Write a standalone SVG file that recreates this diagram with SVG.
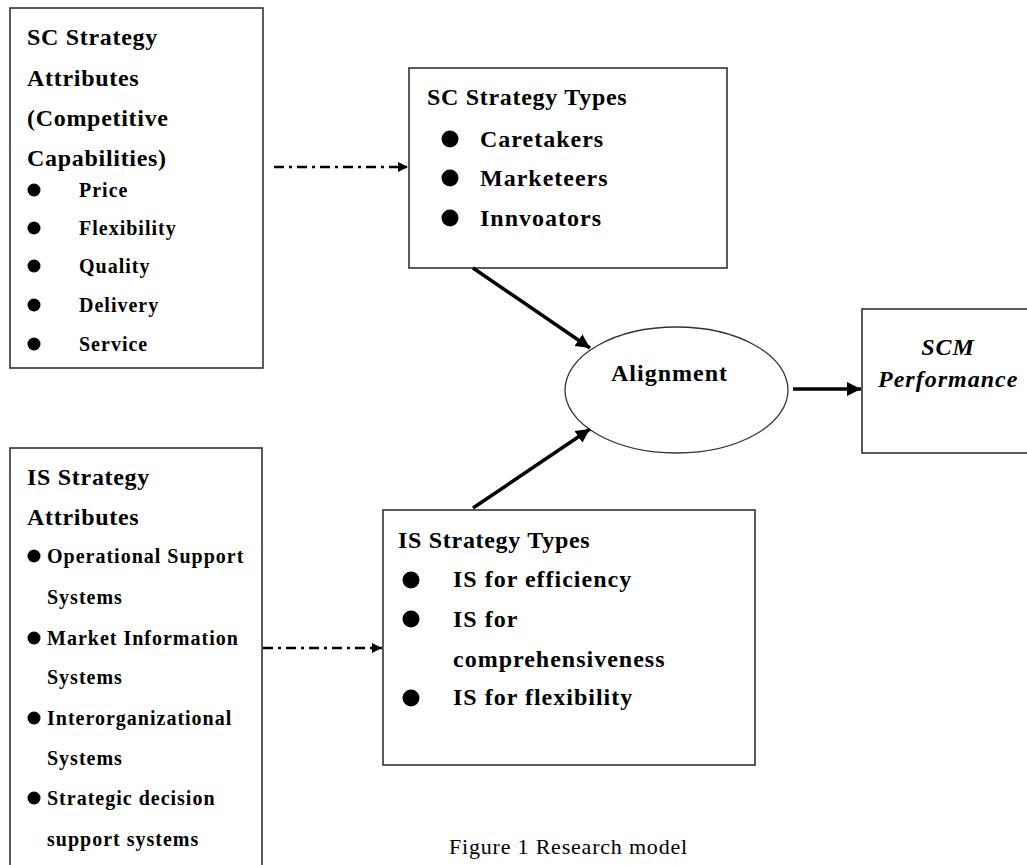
<svg xmlns="http://www.w3.org/2000/svg" width="1027" height="865" viewBox="0 0 1027 865">
<style>
.box{fill:#fff;stroke:#333;stroke-width:1.6}
.t{font-family:"Liberation Serif","Times New Roman",serif;font-weight:bold;fill:#000}
.h{font-size:24px;letter-spacing:0.7px}
.i24{font-size:24px;letter-spacing:1px}
.i20{font-size:20px;letter-spacing:1px}
.it{font-style:italic}
.cap{font-family:"Liberation Serif","Times New Roman",serif;font-size:22px;letter-spacing:0.8px;fill:#000}
.dash{fill:none;stroke:#000;stroke-width:2.5;stroke-dasharray:10 5 3 5}
.solid{fill:none;stroke:#000;stroke-width:3.5}
</style>
<defs>
<marker id="ah" markerUnits="userSpaceOnUse" markerWidth="16" markerHeight="16" refX="14" refY="8" orient="auto">
<path d="M0,1 L14,8 L0,15 Z" fill="#000"/>
</marker>
<marker id="ahs" markerUnits="userSpaceOnUse" markerWidth="12" markerHeight="12" refX="10" refY="6" orient="auto">
<path d="M0,1 L10,6 L0,11 Z" fill="#000"/>
</marker>
</defs>
<rect width="1027" height="865" fill="#fff"/>

<g id="sc-attributes">
<rect class="box" x="10" y="8" width="253" height="360"/>
<text class="t h" x="27" y="45">SC Strategy</text>
<text class="t h" x="27" y="86">Attributes</text>
<text class="t h" x="27" y="126">(Competitive</text>
<text class="t h" x="27" y="166">Capabilities)</text>
<circle cx="34" cy="190" r="6.5"/>
<text class="t i20" x="79" y="197">Price</text>
<circle cx="34" cy="228" r="6.5"/>
<text class="t i20" x="79" y="235">Flexibility</text>
<circle cx="34" cy="266" r="6.5"/>
<text class="t i20" x="79" y="273">Quality</text>
<circle cx="34" cy="305" r="6.5"/>
<text class="t i20" x="79" y="312">Delivery</text>
<circle cx="34" cy="344" r="6.5"/>
<text class="t i20" x="79" y="351">Service</text>
</g>

<g id="sc-types">
<rect class="box" x="409" y="68" width="318" height="200"/>
<text class="t h" x="427" y="105">SC Strategy Types</text>
<circle cx="450" cy="139" r="8.5"/>
<text class="t i24" x="480" y="147">Caretakers</text>
<circle cx="450" cy="178" r="8.5"/>
<text class="t i24" x="480" y="186">Marketeers</text>
<circle cx="450" cy="218" r="8.5"/>
<text class="t i24" x="480" y="226">Innvoators</text>
</g>

<g id="alignment">
<ellipse cx="676.5" cy="390" rx="111.5" ry="63" fill="#fff" stroke="#333" stroke-width="1.3"/>
<text class="t i24" x="611" y="381">Alignment</text>
</g>

<g id="scm-performance">
<rect class="box" x="862" y="309" width="175" height="144"/>
<text class="t i24 it" x="948" y="355" text-anchor="middle">SCM</text>
<text class="t i24 it" x="878" y="387">Performance</text>
</g>

<g id="is-attributes">
<rect class="box" x="10" y="448" width="252" height="430"/>
<text class="t h" x="27" y="485">IS Strategy</text>
<text class="t h" x="27" y="525">Attributes</text>
<circle cx="34" cy="556" r="6.5"/>
<text class="t i20" x="47" y="563">Operational Support</text>
<text class="t i20" x="47" y="604">Systems</text>
<circle cx="34" cy="638" r="6.5"/>
<text class="t i20" x="47" y="645">Market Information</text>
<text class="t i20" x="47" y="684">Systems</text>
<circle cx="34" cy="718" r="6.5"/>
<text class="t i20" x="47" y="725">Interorganizational</text>
<text class="t i20" x="47" y="765">Systems</text>
<circle cx="34" cy="798" r="6.5"/>
<text class="t i20" x="47" y="805">Strategic decision</text>
<text class="t i20" x="47" y="846">support systems</text>
</g>

<g id="is-types">
<rect class="box" x="383" y="510" width="372" height="255"/>
<text class="t h" x="398" y="548">IS Strategy Types</text>
<circle cx="411" cy="580" r="8.5"/>
<text class="t i24" x="453" y="587">IS for efficiency</text>
<circle cx="411" cy="619" r="8.5"/>
<text class="t i24" x="453" y="627">IS for</text>
<text class="t i24" x="453" y="667">comprehensiveness</text>
<circle cx="411" cy="698" r="8.5"/>
<text class="t i24" x="453" y="705">IS for flexibility</text>
</g>

<g id="connectors">
<line class="dash" x1="274" y1="167" x2="408" y2="167" marker-end="url(#ahs)"/>
<line class="dash" x1="263" y1="648" x2="382" y2="648" marker-end="url(#ahs)"/>
<line class="solid" x1="473" y1="268" x2="590" y2="348" marker-end="url(#ah)"/>
<line class="solid" x1="473" y1="508" x2="590" y2="429" marker-end="url(#ah)"/>
<line class="solid" x1="793" y1="389" x2="861" y2="389" marker-end="url(#ah)"/>
</g>

<text class="cap" x="449" y="854">Figure 1 Research model</text>
</svg>
